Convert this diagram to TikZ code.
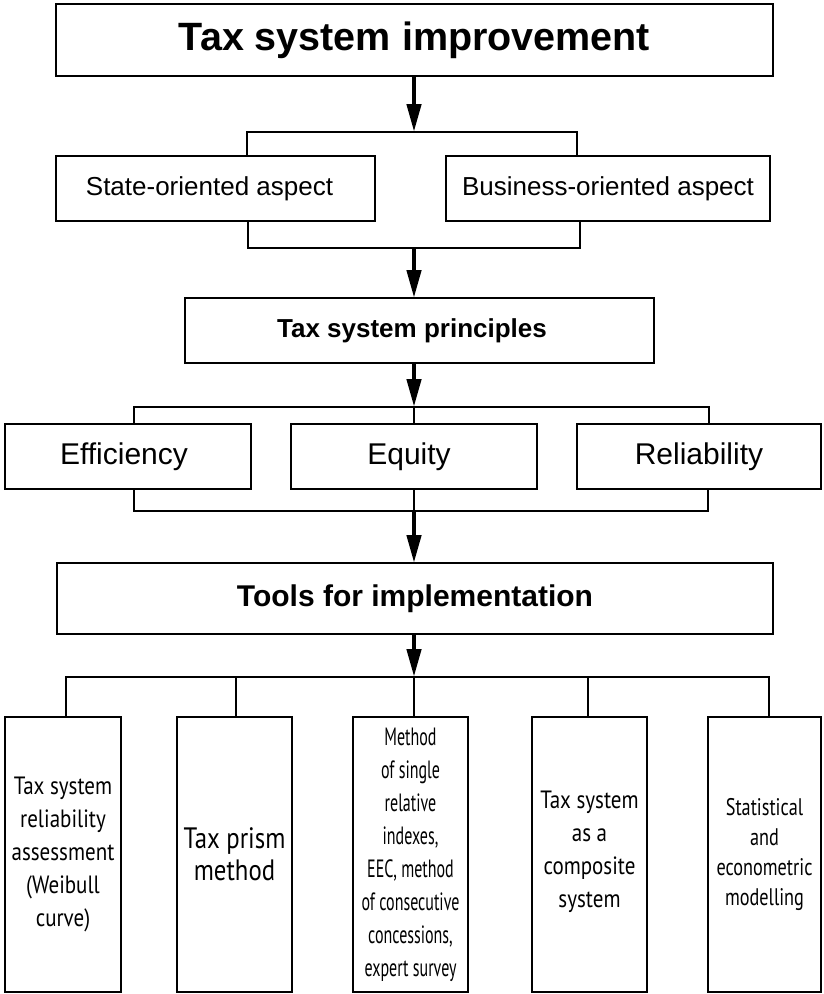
\documentclass[tikz,border=0pt]{standalone}
\usepackage{fontspec}
\setmainfont{Liberation Sans}
\newfontfamily\condA[FakeStretch=0.84]{PT Sans}
\newfontfamily\condB[FakeStretch=0.64]{PT Sans}
\newfontfamily\condC[FakeStretch=0.76]{PT Sans}
\usetikzlibrary{arrows.meta}
\begin{document}
\begin{tikzpicture}[x=1pt,y=-1pt,
  box/.style={draw=black, line width=2.6pt, fill=white, inner sep=0pt, outer sep=0pt, align=center},
  conn/.style={line width=2.4pt, line cap=rect},
  arr/.style={line width=4.5pt, -{Triangle[length=28pt,width=14pt]}},
]
\useasboundingbox (0,0) rectangle (823,994);
% boxes
\node[box, minimum width=717pt, minimum height=72pt, font=\bfseries\fontsize{39.5}{44}\selectfont] (top) at (414.5,40) {Tax system improvement};
\node[box, minimum width=319pt, minimum height=65pt, font=\fontsize{26}{30}\selectfont] (state) at (215.5,188.5) {\hspace*{-12pt}State-oriented aspect};
\node[box, minimum width=324pt, minimum height=65pt, font=\fontsize{26}{30}\selectfont] (business) at (608,188.5) {Business-oriented aspect};
\node[box, minimum width=469pt, minimum height=65pt, font=\bfseries\fontsize{26}{30}\selectfont] (principles) at (419.5,330.5) {\hspace*{-15pt}Tax system principles};
\node[box, minimum width=246pt, minimum height=65pt, font=\fontsize{30}{34}\selectfont] (eff) at (128,456.5) {\hspace*{-8pt}Efficiency};
\node[box, minimum width=246pt, minimum height=65pt, font=\fontsize{30}{34}\selectfont] (equ) at (414,456.5) {\hspace*{-10pt}Equity};
\node[box, minimum width=244pt, minimum height=65pt, font=\fontsize{30}{34}\selectfont] (rel) at (699,456.5) {Reliability};
\node[box, minimum width=716pt, minimum height=71pt, font=\bfseries\fontsize{30}{34}\selectfont] (tools) at (415,598.5) {Tools for implementation};
\node[box, minimum width=116pt, minimum height=275pt, font=\condA\fontsize{25}{33}\selectfont] (b1) at (63,854.5) {Tax system\\reliability\\assessment\\(Weibull\\curve)};
\node[box, minimum width=115pt, minimum height=275pt, font=\condA\fontsize{29.5}{32}\selectfont] (b2) at (234.5,854.5) {Tax prism\\method};
\node[box, minimum width=115pt, minimum height=275pt, font=\condB\fontsize{25}{33}\selectfont] (b3) at (410.5,854.5) {Method\\of single\\relative\\indexes,\\EEC, method\\of consecutive\\concessions,\\expert survey};
\node[box, minimum width=115pt, minimum height=275pt, font=\condA\fontsize{25}{33}\selectfont] (b4) at (589.5,854.5) {Tax system\\as a\\composite\\system\\[-23pt]};
\node[box, minimum width=113pt, minimum height=275pt, font=\condC\fontsize{24}{30}\selectfont] (b5) at (764.5,854.5) {Statistical\\and\\econometric\\modelling};
% junctions
\coordinate (j1) at (414,132);
\coordinate (j1L) at (247,132);
\coordinate (j1R) at (577,132);
\coordinate (j2) at (414,248);
\coordinate (j2L) at (248,248);
\coordinate (j2R) at (580,248);
\coordinate (j3) at (414,407);
\coordinate (j3L) at (134,407);
\coordinate (j3R) at (709,407);
\coordinate (j4) at (414,511);
\coordinate (j4L) at (134,511);
\coordinate (j4R) at (708,511);
\coordinate (j5) at (414,677);
\coordinate (j5L) at (66,677);
\coordinate (j5R) at (769,677);
% arrows
\draw[arr] (top.south -| j1) -- (j1);
\draw[arr] (j2) -- (principles.north -| j2);
\draw[arr] (principles.south -| j3) -- (j3);
\draw[arr] (j4) -- (tools.north -| j4);
\draw[arr] (tools.south -| j5) -- (j5);
% brackets
\draw[conn] (state.north -| j1L) -- (j1L) -- (j1R) -- (business.north -| j1R);
\draw[conn] (state.south -| j2L) -- (j2L) -- (j2R) -- (business.south -| j2R);
\draw[conn] (eff.north -| j3L) -- (j3L) -- (j3R) -- (rel.north -| j3R);
\draw[conn] (j3) -- (equ.north -| j3);
\draw[conn] (eff.south -| j4L) -- (j4L) -- (j4R) -- (rel.south -| j4R);
\draw[conn] (equ.south -| j4) -- (j4);
\draw[conn] (b1.north -| j5L) -- (j5L) -- (j5R) -- (b5.north -| j5R);
\draw[conn] (j5 -| 236,0) -- (b2.north -| 236,0);
\draw[conn] (j5) -- (b3.north -| j5);
\draw[conn] (j5 -| 588,0) -- (b4.north -| 588,0);
\end{tikzpicture}
\end{document}
